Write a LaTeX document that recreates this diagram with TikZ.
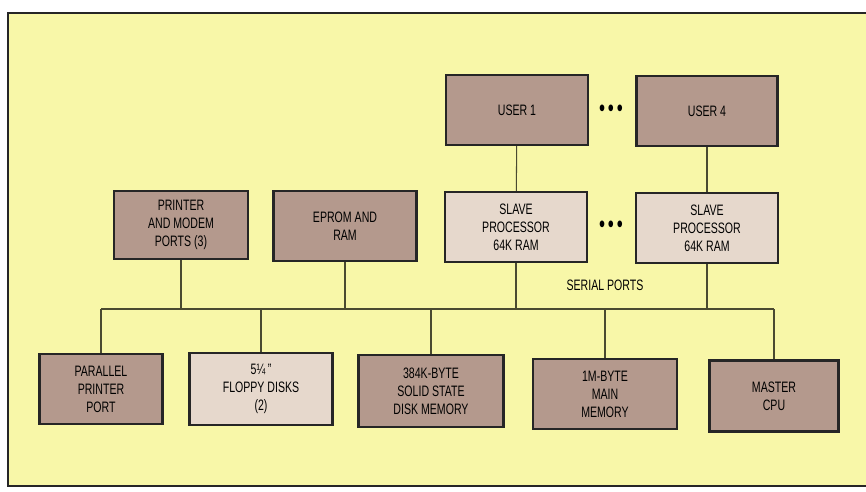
\documentclass[tikz,border=0pt]{standalone}
\usepackage{fontspec}
\setmainfont{Liberation Sans}[FakeStretch=0.7]
\usepackage{xcolor}
\definecolor{colPanel}{HTML}{F8F7A8}
\definecolor{colBox}{HTML}{B4998D}
\definecolor{colLight}{HTML}{E6D8CC}
\definecolor{colWire}{HTML}{4A4A30}
\usetikzlibrary{positioning}

\begin{document}
\begin{tikzpicture}[
		x=0.2mm, y=-0.2mm,
		blk/.style={draw=black!85, line width=1.3pt, align=center, inner sep=0pt,
			font=\fontsize{8.6}{10.3}\selectfont, minimum height=14mm},
		dark/.style={blk, fill=colBox},
		light/.style={blk, fill=colLight},
		wire/.style={colWire, line width=0.6pt},
		dots/.style={font=\fontsize{14}{14}\selectfont}
	]
		\useasboundingbox (0,0) rectangle (866,491);

		% ===== Panel =====
		\fill[colPanel] (8,13) rectangle (866,486);
		\draw[line width=1.4pt, black!85] (866,13) -- (8,13) -- (8,486) -- (866,486);

		% ===== Users =====
		\node[dark, minimum width=28.4mm] (user1) at (517,110) {USER 1};
		\node[dark, minimum width=28.2mm] (user4) at (707,111) {USER 4};
		\node[dots] (dotsU) at (611,111) {\textbullet\hspace{1.6pt}\textbullet\hspace{1.6pt}\textbullet};

		% ===== Slave processors =====
		\node[light, minimum width=28.4mm] (slave1) at (516,227) {SLAVE\\PROCESSOR\\64K RAM};
		\node[light, minimum width=28.4mm] (slave4) at (707,228) {SLAVE\\PROCESSOR\\64K RAM};
		\node[dots] (dotsS) at (611,227) {\textbullet\hspace{1.6pt}\textbullet\hspace{1.6pt}\textbullet};
		\node[font=\fontsize{8.6}{10.3}\selectfont] (serial) at (605,285) {SERIAL PORTS};

		% ===== Upper modules =====
		\node[dark, minimum width=26.8mm, minimum height=13.6mm] (ports) at (181,225) {PRINTER\\AND MODEM\\PORTS (3)};
		\node[dark, minimum width=28.6mm] (eprom) at (345,226) {EPROM AND\\RAM};

		% ===== Lower modules =====
		\node[dark, minimum width=24.6mm] (par) at (101,389) {PARALLEL\\PRINTER\\PORT};
		\node[light, minimum width=28.6mm, minimum height=14.4mm] (floppy) at (261,389) {5\textonequarter\,''\\FLOPPY DISKS\\(2)};
		\node[dark, minimum width=29mm, minimum height=14.4mm] (ssd) at (431,391) {384K-BYTE\\SOLID STATE\\DISK MEMORY};
		\node[dark, minimum width=28.8mm] (mem) at (605,394) {1M-BYTE\\MAIN\\MEMORY};
		\node[dark, minimum width=25.8mm, minimum height=14.2mm] (cpu) at (774,396) {MASTER\\CPU};

		% ===== Bus =====
		\coordinate (busY) at (0,309);
		\draw[wire] (par.north |- busY) -- (cpu.north |- busY);
		\foreach \n in {par, floppy, ssd, mem, cpu}
			\draw[wire] (\n.north) -- (\n.north |- busY);
		\foreach \n in {ports, eprom, slave1, slave4}
			\draw[wire] (\n.south) -- (\n.south |- busY);
		\draw[wire] (user1) -- (slave1);
		\draw[wire] (user4) -- (slave4);
	\end{tikzpicture}
\end{document}
